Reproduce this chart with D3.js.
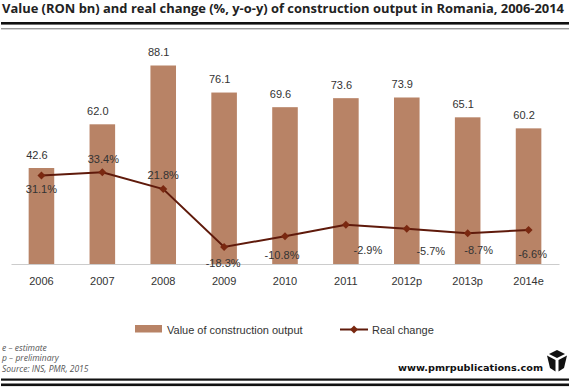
<!DOCTYPE html>
<html>
<head>
<meta charset="utf-8">
<script src="https://cdnjs.cloudflare.com/ajax/libs/d3/7.8.5/d3.min.js"></script>
<style>
  html, body { margin: 0; padding: 0; background: #fff; }
  svg { display: block; }
</style>
</head>
<body>
<div id="chart"></div>
<script>
var years = ['2006', '2007', '2008', '2009', '2010', '2011', '2012p', '2013p', '2014e']
var output_value = [42.6, 62.0, 88.1, 76.1, 69.6, 73.6, 73.9, 65.1, 60.2]
var real_change = [31.1, 33.4, 21.8, -18.3, -10.8, -2.9, -5.7, -8.7, -6.6]
var footnotes = ['e – estimate', 'p – preliminary', 'Source: INS, PMR, 2015']

var w = 570
var h = 387
var sans = '"Liberation Sans", Arial, sans-serif'
var bar_color = '#b88366'
var line_color = '#5f1a0b'
var marker_color = '#7a2810'
var text_color = '#333'

var svg = d3.select('div#chart').append('svg')
  .attr('width', w)
  .attr('height', h)
  .attr('viewBox', [0, 0, w, h].join(' '))

var scale_x = d3.scaleBand().domain(years).range([11, 559]).paddingInner(0.58).paddingOuter(0.29)
var scale_bar = d3.scaleLinear().domain([0, 88.1]).range([264, 65.5])
var scale_line = d3.scaleLinear().domain([-18.3, 33.4]).range([247, 172.3])

function center (d) {
  return scale_x(d) + scale_x.bandwidth() / 2
}

// title and rules
svg.append('text').text('Value (RON bn) and real change (%, y-o-y) of construction output in Romania, 2006-2014')
  .attr('x', 2)
  .attr('y', 13.4)
  .attr('font-family', '"Open Sans", sans-serif')
  .attr('font-weight', 700)
  .attr('font-size', '12.8px')
  .attr('textLength', 562)
  .attr('lengthAdjust', 'spacingAndGlyphs')
  .attr('fill', '#222')

function rule (y, height, color) {
  svg.append('rect').attr('x', 1).attr('y', y).attr('width', 568).attr('height', height).attr('fill', color)
}
rule(22, 2.6, '#111')
rule(28, 1.4, '#999')
rule(378.5, 2.2, '#111')
rule(383.5, 2.6, '#111')

// bars
svg.selectAll('rect.bar').data(years).enter().append('rect')
  .attr('class', 'bar')
  .attr('x', function (d) { return scale_x(d) })
  .attr('y', function (d, i) { return scale_bar(output_value[i]) })
  .attr('width', scale_x.bandwidth())
  .attr('height', function (d, i) { return scale_bar(0) - scale_bar(output_value[i]) })
  .attr('fill', bar_color)

// axis
var axis = svg.append('g')
  .attr('transform', 'translate(0,' + scale_bar(0) + ')')
  .call(d3.axisBottom(scale_x).tickSize(0).tickPadding(13))
axis.select('.domain').attr('stroke', '#ccc').attr('stroke-width', 1.2)
axis.selectAll('text')
  .attr('font-family', sans)
  .attr('font-size', '11px')
  .attr('fill', text_color)

// bar labels, shifted left of the bar centre like the original
svg.selectAll('text.bar-label').data(years).enter().append('text')
  .attr('class', 'bar-label')
  .text(function (d, i) { return output_value[i].toFixed(1) })
  .attr('x', function (d) { return center(d) - 4.5 })
  .attr('y', function (d, i) { return scale_bar(output_value[i]) - 9.5 })
  .attr('text-anchor', 'middle')
  .attr('font-family', sans)
  .attr('font-size', '11px')
  .attr('fill', text_color)

// line
var line = d3.line()
  .x(function (d) { return center(d) })
  .y(function (d, i) { return scale_line(real_change[i]) })

svg.append('path')
  .attr('d', line(years))
  .attr('fill', 'none')
  .attr('stroke', line_color)
  .attr('stroke-width', 2)

var diamond = d3.symbol().type(d3.symbolSquare).size(32)

svg.selectAll('path.marker').data(years).enter().append('path')
  .attr('class', 'marker')
  .attr('d', diamond)
  .attr('transform', function (d, i) {
    return 'translate(' + center(d) + ',' + scale_line(real_change[i]) + ') rotate(45)'
  })
  .attr('fill', marker_color)

// hand placed in the original, so nudged point by point
var label_nudge = [[0, 17], [1, -9], [0, -10], [-1, 20], [-3, 23], [22, 29], [24, 26], [11, 21], [4, 28]]

svg.selectAll('text.line-label').data(years).enter().append('text')
  .attr('class', 'line-label')
  .text(function (d, i) { return real_change[i].toFixed(1) + '%' })
  .attr('x', function (d, i) { return center(d) + label_nudge[i][0] })
  .attr('y', function (d, i) { return scale_line(real_change[i]) + label_nudge[i][1] })
  .attr('text-anchor', 'middle')
  .attr('font-family', sans)
  .attr('font-size', '11px')
  .attr('fill', text_color)

// legend
svg.append('rect').attr('x', 135).attr('y', 325).attr('width', 27).attr('height', 7.5).attr('fill', bar_color)
svg.append('text').text('Value of construction output')
  .attr('x', 167).attr('y', 334)
  .attr('font-family', sans).attr('font-size', '11px').attr('fill', text_color)

svg.append('line').attr('x1', 340).attr('x2', 368).attr('y1', 329.5).attr('y2', 329.5)
  .attr('stroke', line_color).attr('stroke-width', 2)
svg.append('path').attr('d', diamond)
  .attr('transform', 'translate(354,329.5) rotate(45)')
  .attr('fill', marker_color)
svg.append('text').text('Real change')
  .attr('x', 372).attr('y', 334)
  .attr('font-family', sans).attr('font-size', '11px').attr('fill', text_color)

// footnotes
svg.selectAll('text.note').data(footnotes).enter().append('text')
  .attr('class', 'note')
  .text(function (d) { return d })
  .attr('x', 2)
  .attr('y', function (d, i) { return 350.5 + i * 10.7 })
  .attr('font-family', '"Open Sans", sans-serif')
  .attr('font-style', 'italic')
  .attr('font-size', '8.5px')
  .attr('fill', '#555')

// publisher mark
svg.append('text').text('www.pmrpublications.com')
  .attr('x', 398).attr('y', 371)
  .attr('font-family', '"DejaVu Sans", sans-serif')
  .attr('font-weight', 700)
  .attr('font-size', '9.5px')
  .attr('textLength', 145)
  .attr('lengthAdjust', 'spacingAndGlyphs')
  .attr('fill', '#111')

var logo = svg.append('g').attr('transform', 'translate(547,350)').attr('fill', '#111')
logo.append('path').attr('d', 'M2,4 L10,0 L18,4 L10,8 Z')
logo.append('path').attr('d', 'M0,5.5 L8.5,10 L8.5,21.5 L3,18 Z')
logo.append('path').attr('d', 'M20,5.5 L11.5,10 L11.5,21.5 L17,18 Z')
</script>
</body>
</html>
